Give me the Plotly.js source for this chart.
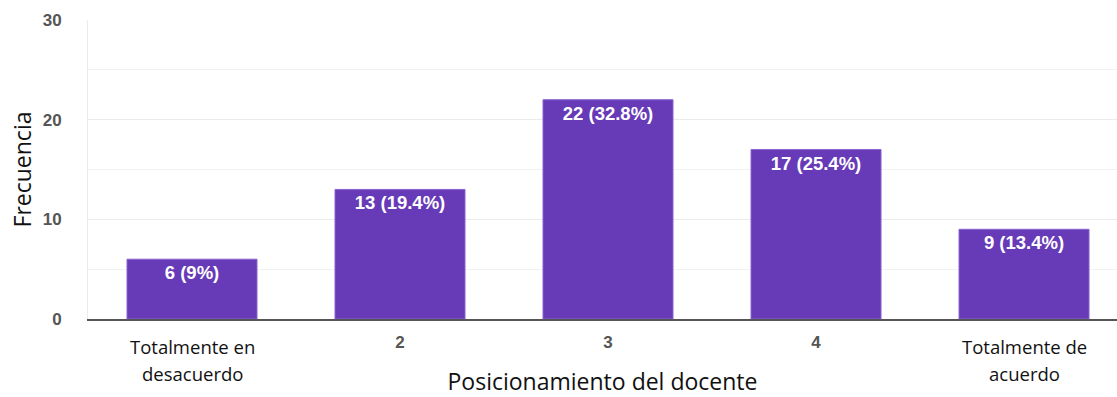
<!DOCTYPE html>
<html>
<head>
<meta charset="utf-8">
<script src="https://cdn.plot.ly/plotly-3.0.1.min.js"></script>
<style>
  html, body { margin: 0; padding: 0; background: #fff; overflow: hidden; }
  #chart { width: 1117px; height: 397px; }
</style>
</head>
<body>
<div id="chart"></div>
<script>
// Survey answers on a 1-5 scale
const categories = ["Totalmente en desacuerdo", "2", "3", "4", "Totalmente de acuerdo"];
const frequencies = [6, 13, 22, 17, 9];
const percents = [9, 19.4, 32.8, 25.4, 13.4];
// numeric ticks are drawn by the axis; worded ends are drawn as two-line captions
const tickLabels = ["", "2", "3", "4", ""];
const captionLines = [["Totalmente en", "desacuerdo"], [], [], [], ["Totalmente de", "acuerdo"]];
const yTicks = [0, 10, 20, 30];

const xPos = categories.map((_, i) => i);
const labels = frequencies.map((f, i) => f + " (" + percents[i] + "%)");

const trace = {
  type: "bar",
  x: xPos,
  y: frequencies,
  width: 0.625,
  marker: { color: "#673ab7", line: { color: "#8a63cf", width: 1 } },
  text: labels,
  textposition: "inside",
  insidetextanchor: "end",
  textangle: 0,
  constraintext: "none",
  textfont: { family: "Liberation Sans, Arial, sans-serif", size: 18.5, color: "#ffffff", weight: "bold" },
  hoverinfo: "skip"
};

const captionFont = { family: "Open Sans, sans-serif", size: 18.5, color: "#111" };
const annotations = [];
captionLines.forEach((lines, i) => {
  lines.forEach((line, k) => {
    annotations.push({
      text: line, x: i, xref: "x", y: 0, yref: "paper",
      xanchor: "center", yanchor: "middle", yshift: -27 - 27 * k,
      showarrow: false, font: captionFont
    });
  });
});

const tickFont = { family: "Liberation Sans, Arial, sans-serif", size: 17, color: "#555", weight: "bold" };

const layout = {
  width: 1117,
  height: 397,
  margin: { l: 88, r: 0, t: 20, b: 78 },
  paper_bgcolor: "#ffffff",
  plot_bgcolor: "#ffffff",
  showlegend: false,
  bargap: 0,
  annotations: annotations,
  xaxis: {
    range: [-0.5, 4.447],
    tickmode: "array",
    tickvals: xPos,
    ticktext: tickLabels,
    ticks: "outside",
    ticklen: 7,
    tickcolor: "rgba(0,0,0,0)",
    tickfont: tickFont,
    showgrid: false,
    showline: true,
    linecolor: "#555",
    linewidth: 1.5,
    zeroline: false,
    title: { text: "Posicionamiento del docente", font: { family: "Open Sans, sans-serif", size: 23, color: "#111" }, standoff: 24 }
  },
  yaxis: {
    range: [0, 30],
    tickmode: "array",
    tickvals: yTicks,
    ticktext: yTicks.map(String),
    ticks: "outside",
    ticklen: 22,
    tickcolor: "rgba(0,0,0,0)",
    tickfont: tickFont,
    showgrid: true,
    gridcolor: "#ebebeb",
    gridwidth: 1,
    minor: { dtick: 5, showgrid: true, gridcolor: "#f2f2f2", gridwidth: 1 },
    showline: true,
    linecolor: "#ebebeb",
    linewidth: 1,
    zeroline: false,
    title: { text: "Frecuencia", font: { family: "Open Sans, sans-serif", size: 23, color: "#111" }, standoff: 4 }
  }
};

Plotly.newPlot("chart", [trace], layout, { displayModeBar: false, staticPlot: true });
</script>
</body>
</html>
